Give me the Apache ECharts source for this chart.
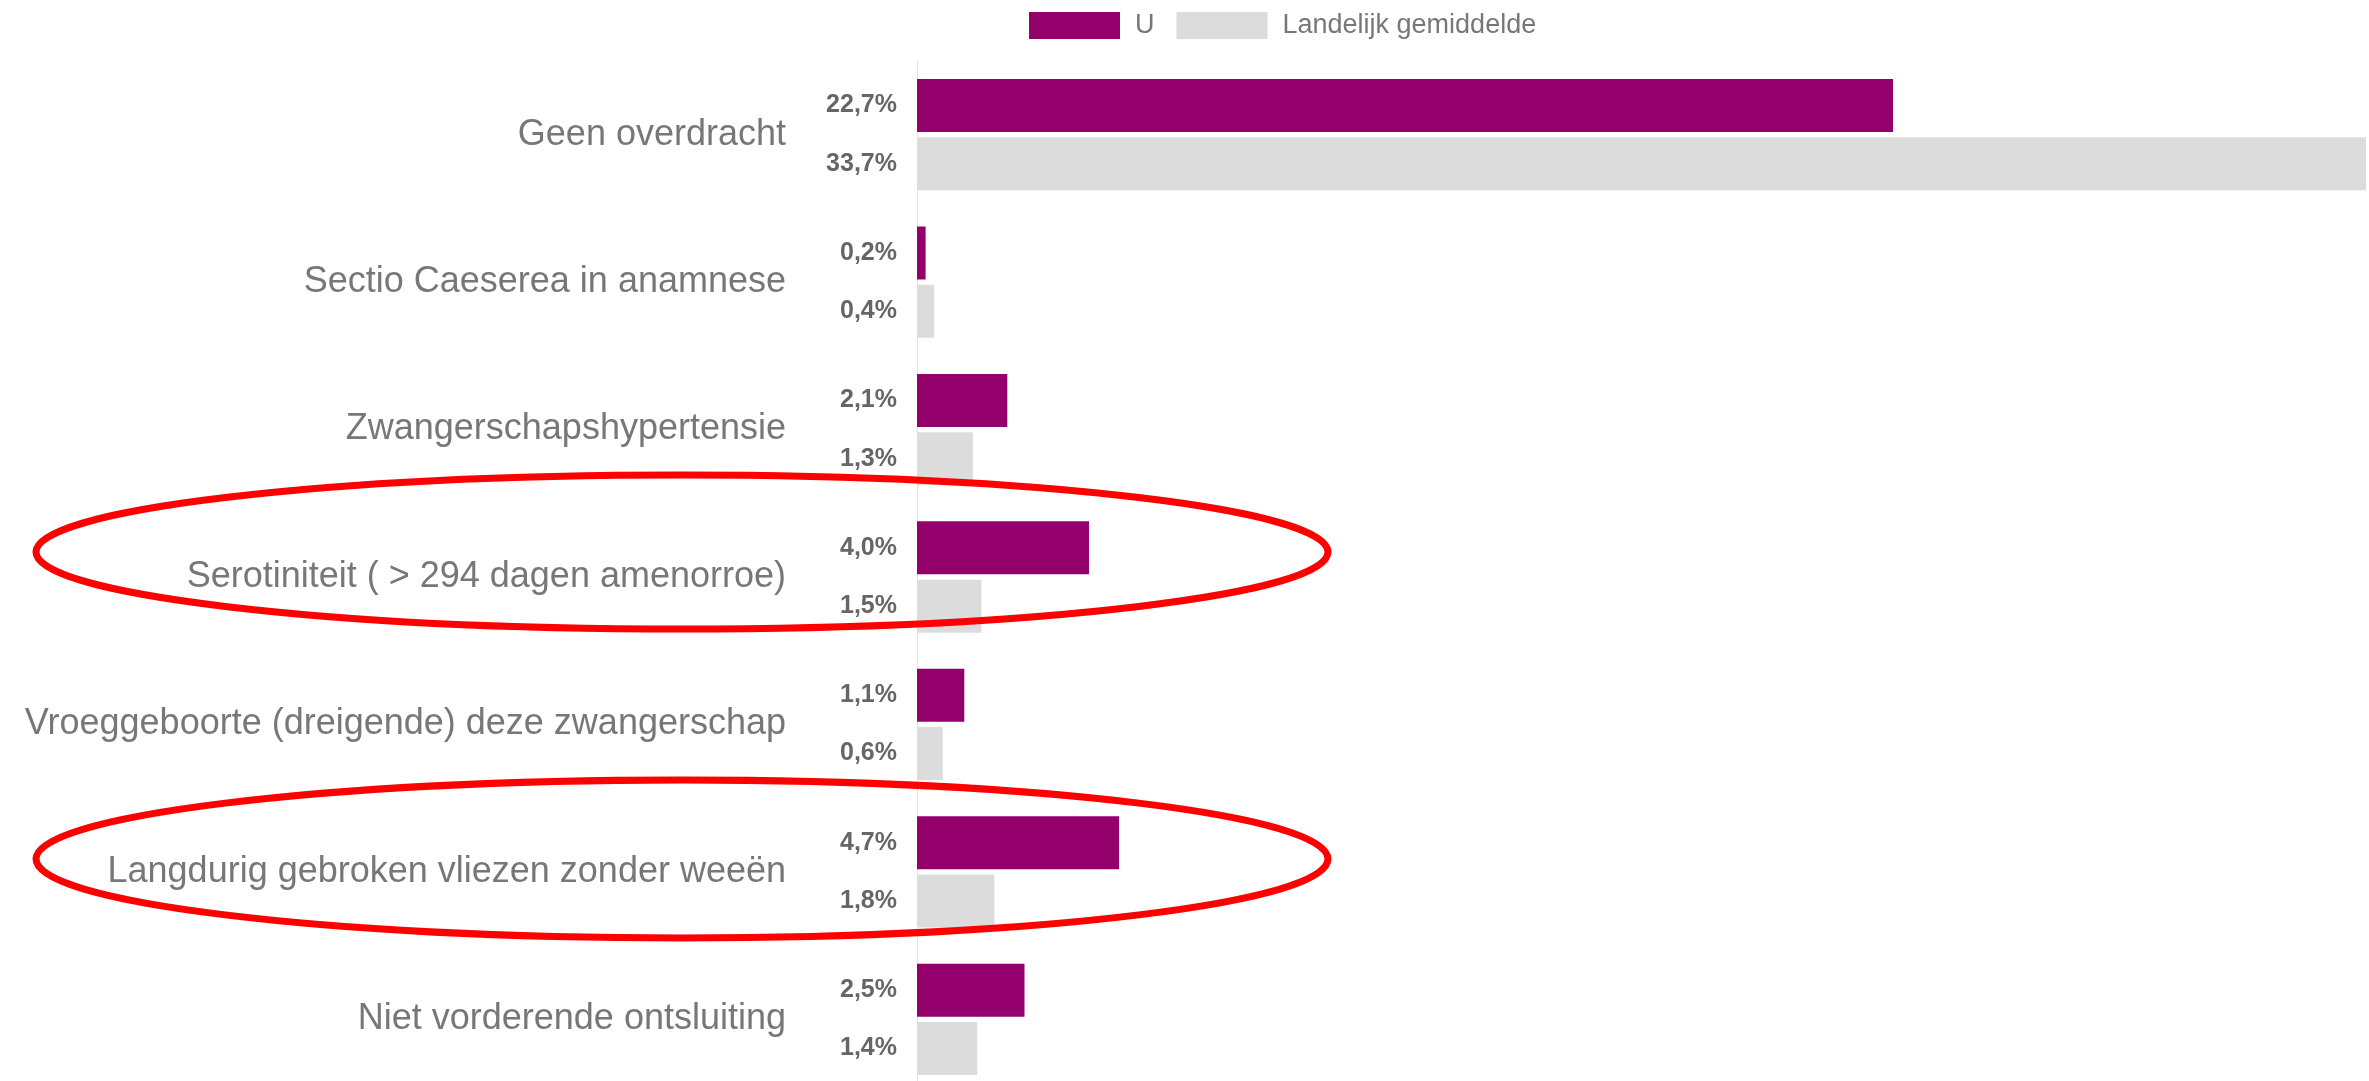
<!DOCTYPE html>
<html>
<head>
<meta charset="utf-8">
<script src="https://cdn.jsdelivr.net/npm/echarts@6/dist/echarts.min.js"></script>
<style>
html,body{margin:0;padding:0;background:#fff;overflow:hidden;}
#chart{width:2369px;height:1100px;}
</style>
</head>
<body>
<div id="chart"></div>
<script>
const categories = [
  'Geen overdracht',
  'Sectio Caeserea in anamnese',
  'Zwangerschapshypertensie',
  'Serotiniteit ( > 294 dagen amenorroe)',
  'Vroeggeboorte (dreigende) deze zwangerschap',
  'Langdurig gebroken vliezen zonder weeën',
  'Niet vorderende ontsluiting'
];
const seriesNames = ['U', 'Landelijk gemiddelde'];
const valuesU = [22.7, 0.2, 2.1, 4.0, 1.1, 4.7, 2.5];
const valuesLandelijk = [33.7, 0.4, 1.3, 1.5, 0.6, 1.8, 1.4];

const chart = echarts.init(document.getElementById('chart'), null, {renderer: 'canvas'});
const fmt = p => p.value.toFixed(1).replace('.', ',') + '%';
const labelCfg = {
  show: true, position: 'left', distance: 20, formatter: fmt,
  fontFamily: 'Liberation Sans, Arial, sans-serif', fontSize: 25, fontWeight: 'bold', color: '#666'
};
chart.setOption({
  animation: false,
  backgroundColor: '#ffffff',
  legend: {
    data: seriesNames,
    left: 1029, top: 12, padding: 0,
    itemWidth: 91, itemHeight: 27, itemGap: 22,
    icon: 'rect',
    textStyle: {fontFamily: 'Liberation Sans, Arial, sans-serif', fontSize: 27, color: '#777', padding: [0,0,0,10]}
  },
  grid: {left: 917, top: 61, width: 1449, height: 1032, containLabel: false, outerBoundsMode: 'none'},
  xAxis: {
    type: 'value', min: 0, max: 33.7,
    axisLine: {show: false}, axisTick: {show: false}, axisLabel: {show: false}, splitLine: {show: false}
  },
  yAxis: {
    type: 'category', data: categories, inverse: true,
    axisLine: {show: true, lineStyle: {color: '#e3e3e3', width: 1}},
    axisTick: {show: false},
    axisLabel: {margin: 131, fontFamily: 'Liberation Sans, Arial, sans-serif', fontSize: 36, color: '#777'}
  },
  series: [
    {name: seriesNames[0], type: 'bar', data: valuesU, barWidth: 53, barGap: '10%',
     itemStyle: {color: '#93006b'}, label: labelCfg},
    {name: seriesNames[1], type: 'bar', data: valuesLandelijk, barWidth: 53, barGap: '10%',
     itemStyle: {color: '#dcdcdc'}, label: labelCfg}
  ],
  graphic: [
    {type: 'ellipse', shape: {cx: 682, cy: 552, rx: 646, ry: 77}, silent: true, z: 100,
     style: {fill: 'none', stroke: '#ff0000', lineWidth: 7}},
    {type: 'ellipse', shape: {cx: 682, cy: 859, rx: 646, ry: 79}, silent: true, z: 100,
     style: {fill: 'none', stroke: '#ff0000', lineWidth: 7}}
  ]
});
</script>
</body>
</html>
